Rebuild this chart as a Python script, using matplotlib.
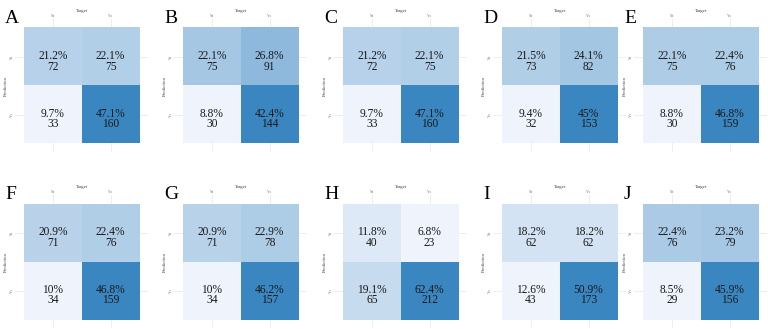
import numpy as np
import matplotlib
matplotlib.use("Agg")
import matplotlib.pyplot as plt
from matplotlib.colors import LinearSegmentedColormap, Normalize

plt.rcParams['font.family'] = ['Liberation Serif', 'DejaVu Serif']

# panel letters and confusion counts [[pred No/target No, pred No/target Yes], [pred Yes/..., ...]]
panel_letters = ['A', 'B', 'C', 'D', 'E', 'F', 'G', 'H', 'I', 'J']
counts_A = [[72, 75], [33, 160]]
counts_B = [[75, 91], [30, 144]]
counts_C = [[72, 75], [33, 160]]
counts_D = [[73, 82], [32, 153]]
counts_E = [[75, 76], [30, 159]]
counts_F = [[71, 76], [34, 159]]
counts_G = [[71, 78], [34, 157]]
counts_H = [[40, 23], [65, 212]]
counts_I = [[62, 62], [43, 173]]
counts_J = [[76, 79], [29, 156]]
all_counts = [counts_A, counts_B, counts_C, counts_D, counts_E,
              counts_F, counts_G, counts_H, counts_I, counts_J]
tick_labels = ['No', 'Yes']

cmap = LinearSegmentedColormap.from_list('bl', ['#eef3fc', '#3a86c0'])

W, H = 768, 329
fig = plt.figure(figsize=(W / 100, H / 100), dpi=100)

tile_lefts = [24, 183, 343, 502, 643]
tile_tops = [28, 204]
tile = 115.5
pad = 0.15
unit = tile / 2
ext = pad * unit

for k, (letter, cm) in enumerate(zip(panel_letters, all_counts)):
    r, c = divmod(k, 5)
    cm = np.array(cm)
    total = cm.sum()
    left_px = tile_lefts[c] - ext
    top_px = tile_tops[r] - ext
    size_px = tile + 2 * ext
    ax = fig.add_axes([left_px / W, 1 - (top_px + size_px) / H, size_px / W, size_px / H])

    norm = Normalize(vmin=cm.min(), vmax=cm.max())
    ax.imshow(cm, cmap=cmap, norm=norm, extent=(0.5, 2.5, 2.5, 0.5),
              aspect='auto', zorder=1, interpolation='nearest')
    for i in range(2):
        for j in range(2):
            pct = round(100 * cm[i, j] / total, 1)
            # percent on top, raw count below, as one two-line label
            ax.text(j + 1, i + 1 + 0.08, f"{pct:g}%\n{cm[i, j]}", ha='center', va='center',
                    fontsize=8.3, color='#1a1a1a', zorder=3, linespacing=0.78)

    ax.set_xlim(0.5 - pad, 2.5 + pad)
    ax.set_ylim(2.5 + pad, 0.5 - pad)
    ax.set_xticks([1, 2])
    ax.set_yticks([1, 2])
    ax.set_xticklabels(tick_labels, fontsize=2.5, color='#777777')
    ax.set_yticklabels(tick_labels, fontsize=2.5, color='#777777', rotation=90, va='center')
    ax.xaxis.tick_top()
    ax.xaxis.set_label_position('top')
    ax.tick_params(length=0, pad=1)
    ax.set_xlabel('Target', fontsize=3.5, color='#444444', labelpad=1.5)
    ax.set_ylabel('Prediction', fontsize=3.5, color='#444444', labelpad=1.5)
    ax.grid(True, color='#ebebeb', lw=0.6)
    ax.set_axisbelow(True)
    for s in ax.spines.values():
        s.set_visible(False)

    fig.text((tile_lefts[c] - 19) / W, 1 - (tile_tops[r] - 5) / H, letter,
             fontsize=14, ha='left', va='baseline', color='black')

fig.savefig('out.png', dpi=100)
